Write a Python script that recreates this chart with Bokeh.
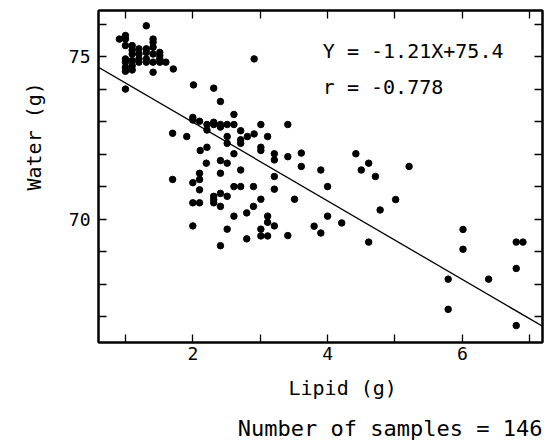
from bokeh.plotting import figure
from bokeh.models import Range1d, FixedTicker, LinearAxis, Label, Slope, CustomJSTickFormatter, Title
from bokeh.embed import file_html
from bokeh.resources import INLINE

# ---- data ----
cluster_lipid = [0.91, 1.00, 1.00, 1.00, 1.00, 1.00, 1.00, 1.00,
                 1.10, 1.10, 1.10, 1.10, 1.10, 1.10,
                 1.20, 1.20, 1.20, 1.20,
                 1.31, 1.31, 1.31, 1.31, 1.31,
                 1.41, 1.41, 1.41, 1.41, 1.41, 1.41,
                 1.51, 1.51, 1.51, 1.51,
                 1.60, 1.71, 1.00, 2.91, 2.01, 2.31]
cluster_water = [75.54, 75.65, 75.54, 75.34, 74.93, 74.83, 74.67, 74.55,
                 75.34, 75.20, 75.08, 74.88, 74.72, 74.59,
                 75.24, 75.08, 74.93, 74.83,
                 75.95, 75.24, 75.13, 74.93, 74.83,
                 75.54, 75.44, 75.29, 75.08, 74.83, 74.52,
                 75.13, 75.03, 74.93, 74.83,
                 74.83, 74.62, 74.00, 74.93, 74.13, 74.03]

middle_lipid = [2.41, 2.00, 2.00, 2.10, 2.21, 2.21, 2.31, 2.31, 2.41, 2.41,
                2.51, 2.61, 2.61, 2.71, 2.71, 2.71, 2.51, 2.51, 2.61, 2.81,
                2.91, 3.01, 3.11, 3.01, 3.01, 3.41, 3.21, 3.21, 3.41, 3.61,
                3.61, 3.90, 3.21, 4.00, 3.21, 3.51, 4.00, 4.21, 3.80, 3.90,
                3.41, 4.42, 4.50, 4.61, 4.71, 4.78, 4.61,
                1.70, 1.91, 1.70, 2.11, 2.21, 2.20, 2.41, 2.51, 2.41,
                2.71, 2.10, 2.10, 2.00, 2.10, 2.00, 2.10, 2.31, 2.31, 2.31,
                2.41, 2.51, 2.41, 2.61, 2.71, 2.90, 3.01, 2.90, 2.80, 2.61,
                3.11, 3.11, 3.21, 3.01, 3.01, 3.11, 2.80, 2.51, 2.00, 2.41]
middle_water = [73.62, 73.13, 73.05, 73.01, 72.91, 72.74, 72.98, 72.91, 72.91, 72.83,
                72.91, 73.22, 72.91, 72.72, 72.44, 72.33, 72.54, 72.33, 72.01, 72.54,
                72.62, 72.91, 72.54, 72.21, 72.11, 72.91, 72.01, 71.82, 71.92, 72.03,
                71.62, 71.51, 71.31, 71.00, 70.92, 70.61, 70.09, 69.88, 69.78, 69.57,
                69.49, 72.01, 71.51, 71.72, 71.31, 70.28, 69.29,
                72.64, 72.54, 71.22, 72.11, 72.21, 71.72, 71.80, 71.72, 71.41,
                71.51, 71.41, 71.22, 71.12, 70.90, 70.50, 70.50, 70.70, 70.60, 70.50,
                70.79, 70.70, 70.39, 71.00, 71.00, 71.00, 70.61, 70.39, 70.19, 70.09,
                70.09, 69.90, 69.79, 69.69, 69.48, 69.48, 69.39, 69.69, 69.79, 69.18]

high_lipid = [5.01, 5.21, 6.01, 6.01, 5.79, 5.79, 6.39, 6.80, 6.90, 6.80, 6.80]
high_water = [70.60, 71.62, 69.68, 69.07, 68.15, 67.22, 68.15, 69.29, 69.29, 68.48, 66.72]

lipid = cluster_lipid + middle_lipid + high_lipid
water = cluster_water + middle_water + high_water

slope = -1.21
intercept = 75.4
r_value = -0.778
n_samples = 146

x_major = [2, 4, 6]
x_minor = [1, 3, 5, 7]
y_major = [70, 75]
y_minor = [67, 68, 69, 71, 72, 73, 74, 76]

FONT = "DejaVu Sans Mono"

p = figure(width=545, height=444, output_backend="svg", toolbar_location=None,
           x_range=Range1d(0.6, 7.19), y_range=Range1d(66.2, 76.42),
           min_border_left=97, min_border_right=3, min_border_top=10, min_border_bottom=102)
p.grid.visible = False
p.outline_line_color = "black"
p.outline_line_width = 2
p.background_fill_color = "white"
p.border_fill_color = "white"


def style_axis(ax, major, minor, labels=True, standoff=8):
    ax.ticker = FixedTicker(ticks=major, minor_ticks=minor)
    ax.axis_line_color = "black"
    ax.axis_line_width = 2
    ax.major_tick_in = 8
    ax.major_tick_out = 0
    ax.minor_tick_in = 8
    ax.minor_tick_out = 0
    ax.major_tick_line_color = "black"
    ax.minor_tick_line_color = "black"
    ax.major_tick_line_width = 1.3
    ax.minor_tick_line_width = 1.3
    if labels:
        ax.major_label_text_font = FONT
        ax.major_label_text_font_size = "18px"
        ax.major_label_text_color = "black"
        ax.major_label_standoff = standoff
    else:
        ax.formatter = CustomJSTickFormatter(code="return ''")
        ax.major_label_standoff = 0
        ax.major_label_text_font_size = "0px"


style_axis(p.xaxis[0], x_major, x_minor, standoff=4)
style_axis(p.yaxis[0], y_major, y_minor, standoff=8)

top = LinearAxis()
style_axis(top, x_major, x_minor, labels=False)
p.add_layout(top, "above")
right = LinearAxis()
style_axis(right, y_major, y_minor, labels=False)
p.add_layout(right, "right")

p.scatter(lipid, water, size=6.5, color="black", marker="circle")

p.add_layout(Slope(gradient=slope, y_intercept=intercept, line_color="black", line_width=1.3))

eq1 = Label(x=3.93, y=75.16, text=f"Y = {slope:.2f}X+{intercept:.1f}", text_color="black",
            text_font=FONT, text_font_size="20px", text_align="left", text_baseline="middle")
eq2 = Label(x=3.93, y=74.08, text=f"r = {r_value:.3f}", text_color="black",
            text_font=FONT, text_font_size="20px", text_align="left", text_baseline="middle")
p.add_layout(eq1)
p.add_layout(eq2)

xtitle = Title(text="Lipid (g)", align="left", offset=190, standoff=22, text_color="black",
               text_font=FONT, text_font_size="20px", text_font_style="normal")
ntitle = Title(text=f"Number of samples = {n_samples}", align="right", standoff=6,
               text_color="black", text_font=FONT, text_font_size="22px", text_font_style="normal")
p.add_layout(xtitle, "below")
p.add_layout(ntitle, "below")

ytitle = Title(text="Water (g)", align="left", offset=152, standoff=39,
               text_color="black", text_font=FONT, text_font_size="20px", text_font_style="normal")
p.add_layout(ytitle, "left")

open("out.html", "w").write(file_html(p, INLINE))
